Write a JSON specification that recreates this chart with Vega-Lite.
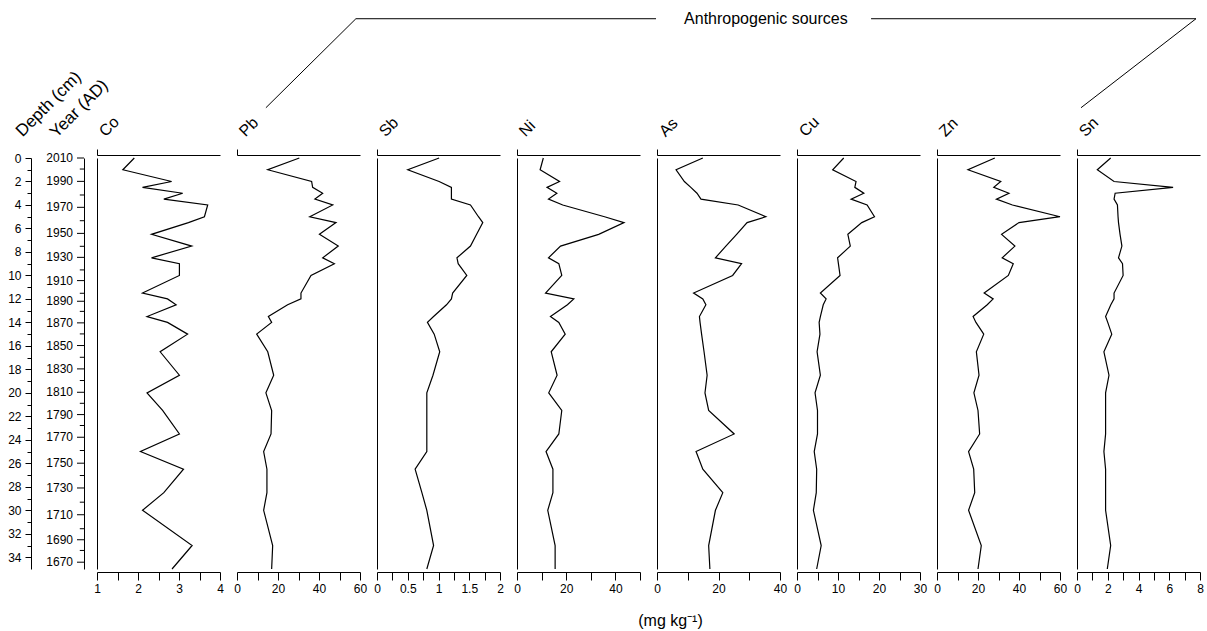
{
  "$schema": "https://vega.github.io/schema/vega-lite/v6.json",
  "background": "white",
  "padding": {"left": 7, "top": 10, "right": 2, "bottom": 2},
  "config": {
    "view": {"stroke": null},
    "font": "Liberation Sans",
    "axis": {
      "domainColor": "black", "tickColor": "black", "labelColor": "black", "titleColor": "black",
      "labelFont": "Liberation Sans", "titleFont": "Liberation Sans", "labelFontSize": 12,
      "titleFontWeight": "normal", "titleFontSize": 16, "grid": false, "labelFlush": false,
      "labelOverlap": false, "domainWidth": 1, "tickWidth": 1
    }
  },
  "datasets": {
    "conc": [
      {"depth": 0, "Co": 1.91, "Pb": 30.4, "Sb": 1.01, "Ni": 10.7, "As": 14.9, "Cu": 11.4, "Zn": 28.2, "Sn": 2.19},
      {"depth": 1, "Co": 1.63, "Pb": 15.0, "Sb": 0.50, "Ni": 9.4, "As": 6.2, "Cu": 8.7, "Zn": 15.1, "Sn": 1.32},
      {"depth": 2, "Co": 2.82, "Pb": 36.4, "Sb": 1.01, "Ni": 17.3, "As": 8.9, "Cu": 14.4, "Zn": 31.1, "Sn": 2.41},
      {"depth": 2.5, "Co": 2.11, "Pb": 36.9, "Sb": 1.21, "Ni": 12.2, "As": 11.0, "Cu": 14.1, "Zn": 27.7, "Sn": 6.25},
      {"depth": 3, "Co": 3.09, "Pb": 41.8, "Sb": 1.21, "Ni": 16.2, "As": 13.0, "Cu": 16.3, "Zn": 35.1, "Sn": 2.48},
      {"depth": 3.5, "Co": 2.63, "Pb": 38.0, "Sb": 1.21, "Ni": 12.8, "As": 14.3, "Cu": 13.2, "Zn": 29.0, "Sn": 2.41},
      {"depth": 4, "Co": 3.70, "Pb": 46.7, "Sb": 1.52, "Ni": 18.6, "As": 26.4, "Cu": 17.1, "Zn": 36.8, "Sn": 2.63},
      {"depth": 5, "Co": 3.62, "Pb": 35.5, "Sb": 1.65, "Ni": 35.6, "As": 35.4, "Cu": 18.9, "Zn": 60.0, "Sn": 2.67},
      {"depth": 5.5, "Co": 3.23, "Pb": 48.3, "Sb": 1.72, "Ni": 43.5, "As": 29.3, "Cu": 15.8, "Zn": 40.0, "Sn": 2.70},
      {"depth": 6.5, "Co": 2.33, "Pb": 40.2, "Sb": 1.62, "Ni": 33.2, "As": 25.9, "Cu": 12.4, "Zn": 31.5, "Sn": 2.80},
      {"depth": 7.5, "Co": 3.31, "Pb": 49.4, "Sb": 1.52, "Ni": 17.7, "As": 22.4, "Cu": 13.0, "Zn": 38.0, "Sn": 2.92},
      {"depth": 8.5, "Co": 2.33, "Pb": 41.8, "Sb": 1.30, "Ni": 12.8, "As": 19.0, "Cu": 9.9, "Zn": 31.8, "Sn": 2.70},
      {"depth": 9, "Co": 3.01, "Pb": 47.5, "Sb": 1.32, "Ni": 17.0, "As": 27.5, "Cu": 10.1, "Zn": 37.2, "Sn": 2.96},
      {"depth": 10, "Co": 3.01, "Pb": 36.1, "Sb": 1.46, "Ni": 18.2, "As": 24.6, "Cu": 10.5, "Zn": 34.8, "Sn": 3.00},
      {"depth": 11.5, "Co": 2.11, "Pb": 31.2, "Sb": 1.23, "Ni": 11.6, "As": 11.9, "Cu": 5.7, "Zn": 23.0, "Sn": 2.41},
      {"depth": 12, "Co": 2.72, "Pb": 31.2, "Sb": 1.21, "Ni": 23.1, "As": 14.9, "Cu": 7.1, "Zn": 27.4, "Sn": 2.41},
      {"depth": 12.5, "Co": 2.93, "Pb": 24.7, "Sb": 1.13, "Ni": 20.5, "As": 15.9, "Cu": 6.4, "Zn": 24.5, "Sn": 2.20},
      {"depth": 13.5, "Co": 2.22, "Pb": 15.3, "Sb": 0.92, "Ni": 13.6, "As": 13.8, "Cu": 5.7, "Zn": 17.6, "Sn": 1.86},
      {"depth": 14, "Co": 2.72, "Pb": 16.9, "Sb": 0.82, "Ni": 17.0, "As": 14.0, "Cu": 5.4, "Zn": 19.0, "Sn": 2.00},
      {"depth": 15, "Co": 3.21, "Pb": 9.6, "Sb": 0.93, "Ni": 19.6, "As": 14.5, "Cu": 5.6, "Zn": 22.8, "Sn": 2.26},
      {"depth": 16.5, "Co": 2.54, "Pb": 15.0, "Sb": 1.02, "Ni": 13.9, "As": 15.3, "Cu": 4.9, "Zn": 19.2, "Sn": 1.75},
      {"depth": 18.5, "Co": 3.01, "Pb": 17.9, "Sb": 0.91, "Ni": 16.3, "As": 16.3, "Cu": 5.7, "Zn": 20.5, "Sn": 2.08},
      {"depth": 20, "Co": 2.22, "Pb": 14.1, "Sb": 0.81, "Ni": 12.9, "As": 15.6, "Cu": 4.4, "Zn": 18.0, "Sn": 1.86},
      {"depth": 21.5, "Co": 2.60, "Pb": 16.9, "Sb": 0.81, "Ni": 18.2, "As": 16.8, "Cu": 5.0, "Zn": 20.0, "Sn": 1.86},
      {"depth": 23.5, "Co": 3.01, "Pb": 16.6, "Sb": 0.81, "Ni": 17.0, "As": 25.1, "Cu": 5.0, "Zn": 20.8, "Sn": 1.86},
      {"depth": 25, "Co": 2.06, "Pb": 13.0, "Sb": 0.81, "Ni": 11.8, "As": 12.7, "Cu": 4.2, "Zn": 15.4, "Sn": 1.75},
      {"depth": 26.5, "Co": 3.11, "Pb": 14.6, "Sb": 0.62, "Ni": 14.6, "As": 14.9, "Cu": 4.8, "Zn": 17.9, "Sn": 1.86},
      {"depth": 28.5, "Co": 2.63, "Pb": 14.6, "Sb": 0.73, "Ni": 14.6, "As": 21.4, "Cu": 4.7, "Zn": 18.4, "Sn": 1.86},
      {"depth": 30, "Co": 2.11, "Pb": 13.0, "Sb": 0.81, "Ni": 12.5, "As": 19.0, "Cu": 4.0, "Zn": 15.4, "Sn": 1.86},
      {"depth": 33, "Co": 3.32, "Pb": 17.4, "Sb": 0.92, "Ni": 15.5, "As": 16.8, "Cu": 5.9, "Zn": 21.6, "Sn": 2.19},
      {"depth": 35, "Co": 2.83, "Pb": 16.9, "Sb": 0.81, "Ni": 15.5, "As": 17.2, "Cu": 4.8, "Zn": 20.0, "Sn": 1.97}
    ],
    "years": [
      {"year": 2010, "depth": 0, "major": true}, {"year": 2000, "depth": 0.94, "major": false},
      {"year": 1990, "depth": 1.99, "major": true}, {"year": 1980, "depth": 3.15, "major": false},
      {"year": 1970, "depth": 4.2, "major": true}, {"year": 1960, "depth": 5.34, "major": false},
      {"year": 1950, "depth": 6.42, "major": true}, {"year": 1940, "depth": 7.52, "major": false},
      {"year": 1930, "depth": 8.46, "major": true}, {"year": 1920, "depth": 9.53, "major": false},
      {"year": 1910, "depth": 10.44, "major": true}, {"year": 1900, "depth": 11.52, "major": false},
      {"year": 1890, "depth": 12.2, "major": true}, {"year": 1880, "depth": 13.06, "major": false},
      {"year": 1870, "depth": 14.04, "major": true}, {"year": 1860, "depth": 14.98, "major": false},
      {"year": 1850, "depth": 15.97, "major": true}, {"year": 1840, "depth": 16.97, "major": false},
      {"year": 1830, "depth": 17.96, "major": true}, {"year": 1820, "depth": 18.95, "major": false},
      {"year": 1810, "depth": 19.95, "major": true}, {"year": 1800, "depth": 20.89, "major": false},
      {"year": 1790, "depth": 21.85, "major": true}, {"year": 1780, "depth": 22.78, "major": false},
      {"year": 1770, "depth": 23.78, "major": true}, {"year": 1760, "depth": 24.91, "major": false},
      {"year": 1750, "depth": 25.99, "major": true}, {"year": 1740, "depth": 27.04, "major": false},
      {"year": 1730, "depth": 28.1, "major": true}, {"year": 1720, "depth": 29.31, "major": false},
      {"year": 1710, "depth": 30.38, "major": true}, {"year": 1700, "depth": 31.57, "major": false},
      {"year": 1690, "depth": 32.51, "major": true}, {"year": 1680, "depth": 33.42, "major": false},
      {"year": 1670, "depth": 34.42, "major": true}
    ],
    "bracket": [
      {"seg": "a", "o": 1, "bx": 14.1, "by": -4.28},
      {"seg": "a", "o": 2, "bx": 58.0, "by": -11.86},
      {"seg": "a", "o": 3, "bx": 204.4, "by": -11.86},
      {"seg": "b", "o": 1, "bx": 309.3, "by": -11.86},
      {"seg": "b", "o": 2, "bx": 467.8, "by": -11.86},
      {"seg": "b", "o": 3, "bx": 411.7, "by": -4.28}
    ],
    "bracketLabel": [
      {"bx": 258.0, "by": -11.86, "label": "Anthropogenic sources"}
    ]
  },
  "spacing": 13,
  "bounds": "flush",
  "hconcat": [
    {
      "width": 7, "height": 411,
      "data": {"name": "years"},
      "layer": [
        {
          "transform": [{"filter": "datum.major"}],
          "mark": {"type": "rule", "color": "black", "strokeWidth": 1},
          "encoding": {
            "x": {"datum": 0, "type": "quantitative", "scale": {"domain": [0, 1], "nice": false, "zero": false}, "axis": null},
            "x2": {"datum": 1},
            "y": {"field": "depth", "type": "quantitative",
              "scale": {"domain": [0, 35], "reverse": true, "nice": false, "zero": false},
              "axis": {"orient": "left", "offset": 46,
                "values": [0,1,2,3,4,5,6,7,8,9,10,11,12,13,14,15,16,17,18,19,20,21,22,23,24,25,26,27,28,29,30,31,32,33,34],
                "tickSize": {"condition": {"test": "datum.value % 2 === 0", "value": 6}, "value": 4},
                "labelPadding": 4,
                "labelExpr": "datum.value % 2 === 0 ? datum.label : ''",
                "title": "Depth (cm)", "titleFontSize": 17, "titleAngle": 315, "titleAlign": "left", "titleBaseline": "alphabetic",
                "titleX": -9, "titleY": -21}}
          }
        },
        {
          "transform": [{"filter": "!datum.major"}],
          "mark": {"type": "rule", "color": "black", "strokeWidth": 1},
          "encoding": {
            "x": {"datum": 0.4, "type": "quantitative", "scale": {"domain": [0, 1], "nice": false, "zero": false}, "axis": null},
            "x2": {"datum": 1},
            "y": {"field": "depth", "type": "quantitative",
              "scale": {"domain": [0, 35], "reverse": true, "nice": false, "zero": false}, "axis": null}
          }
        },
        {
          "transform": [{"filter": "datum.major"}],
          "mark": {"type": "text", "align": "right", "baseline": "middle", "dx": -4, "fontSize": 12, "color": "black"},
          "encoding": {
            "x": {"datum": 0, "type": "quantitative", "scale": {"domain": [0, 1], "nice": false, "zero": false}, "axis": null},
            "y": {"field": "depth", "type": "quantitative",
              "scale": {"domain": [0, 35], "reverse": true, "nice": false, "zero": false},
              "axis": {"orient": "right", "ticks": false, "labels": false, "domain": true,
                "title": "Year (AD)", "titleFontSize": 17, "titleAngle": 315, "titleAlign": "left", "titleBaseline": "alphabetic",
                "titleX": -28, "titleY": -20}},
            "text": {"field": "year", "type": "quantitative", "format": "d"}
          }
        }
      ],
      "resolve": {"axis": {"y": "independent"}}
    },
    {
      "width": 127, "height": 411,
      "data": {"name": "conc"},
      "layer": [
        {
          "mark": {"type": "line", "color": "black", "strokeWidth": 1.2},
          "encoding": {
            "y": {"field": "depth", "type": "quantitative", "scale": {"domain": [0, 35], "reverse": true, "nice": false, "zero": false},
              "axis": {"orient": "left", "ticks": false, "labels": false, "title": null, "domain": true}},
            "x": {"field": "Co", "type": "quantitative", "scale": {"domain": [1, 4], "range": [0, 123], "nice": false, "zero": false},
              "axis": {"orient": "bottom", "offset": 3, "values": [1, 1.5, 2, 2.5, 3, 3.5, 4],
                "labelExpr": "datum.value % 1 === 0 ? '' + datum.value : ''", "tickSize": 8, "labelPadding": 3, "title": null}},
            "order": {"field": "depth", "type": "quantitative"}
          }
        },
        {
          "mark": {"type": "line", "opacity": 0},
          "encoding": {
            "y": {"field": "depth", "type": "quantitative", "scale": {"domain": [0, 35], "reverse": true, "nice": false, "zero": false},
              "axis": {"orient": "left", "ticks": false, "labels": false, "title": null, "domain": true}},
            "x": {"field": "Co", "type": "quantitative", "scale": {"domain": [1, 4], "range": [0, 123], "nice": false, "zero": false},
              "axis": {"orient": "top", "offset": 3, "values": [1], "tickSize": 6, "labels": false,
                "title": "Co", "titleAngle": 315, "titleAlign": "left", "titleBaseline": "alphabetic", "titleX": 8, "titleY": -18}},
            "order": {"field": "depth", "type": "quantitative"}
          }
        }
      ],
      "resolve": {"axis": {"x": "independent"}}
    },
    {
      "width": 127, "height": 411,
      "data": {"name": "conc"},
      "layer": [
        {
          "mark": {"type": "line", "color": "black", "strokeWidth": 1.2},
          "encoding": {
            "y": {"field": "depth", "type": "quantitative", "scale": {"domain": [0, 35], "reverse": true, "nice": false, "zero": false},
              "axis": {"orient": "left", "ticks": false, "labels": false, "title": null, "domain": true}},
            "x": {"field": "Pb", "type": "quantitative", "scale": {"domain": [0, 60], "range": [0, 123], "nice": false, "zero": false},
              "axis": {"orient": "bottom", "offset": 3, "values": [0, 10, 20, 30, 40, 50, 60],
                "labelExpr": "datum.value % 20 === 0 ? '' + datum.value : ''", "tickSize": 8, "labelPadding": 3, "title": null}},
            "order": {"field": "depth", "type": "quantitative"}
          }
        },
        {
          "mark": {"type": "line", "opacity": 0},
          "encoding": {
            "y": {"field": "depth", "type": "quantitative", "scale": {"domain": [0, 35], "reverse": true, "nice": false, "zero": false},
              "axis": {"orient": "left", "ticks": false, "labels": false, "title": null, "domain": true}},
            "x": {"field": "Pb", "type": "quantitative", "scale": {"domain": [0, 60], "range": [0, 123], "nice": false, "zero": false},
              "axis": {"orient": "top", "offset": 3, "values": [0], "tickSize": 6, "labels": false,
                "title": "Pb", "titleAngle": 315, "titleAlign": "left", "titleBaseline": "alphabetic", "titleX": 8, "titleY": -18}},
            "order": {"field": "depth", "type": "quantitative"}
          }
        },
        {
          "data": {"name": "bracket"},
          "mark": {"type": "line", "color": "black", "strokeWidth": 1, "clip": false},
          "encoding": {
            "y": {"field": "by", "type": "quantitative", "scale": {"domain": [0, 35], "reverse": true, "nice": false, "zero": false}, "axis": null},
            "x": {"field": "bx", "type": "quantitative", "scale": {"domain": [0, 60], "range": [0, 123], "nice": false, "zero": false}, "axis": null},
            "detail": {"field": "seg", "type": "nominal"},
            "order": {"field": "o", "type": "quantitative"}
          }
        },
        {
          "data": {"name": "bracketLabel"},
          "mark": {"type": "text", "fontSize": 16, "color": "black", "align": "center", "baseline": "middle", "clip": false},
          "encoding": {
            "y": {"field": "by", "type": "quantitative", "scale": {"domain": [0, 35], "reverse": true, "nice": false, "zero": false}, "axis": null},
            "x": {"field": "bx", "type": "quantitative", "scale": {"domain": [0, 60], "range": [0, 123], "nice": false, "zero": false}, "axis": null},
            "text": {"field": "label", "type": "nominal"}
          }
        }
      ],
      "resolve": {"axis": {"x": "independent"}}
    },
    {
      "width": 127, "height": 411,
      "data": {"name": "conc"},
      "layer": [
        {
          "mark": {"type": "line", "color": "black", "strokeWidth": 1.2},
          "encoding": {
            "y": {"field": "depth", "type": "quantitative", "scale": {"domain": [0, 35], "reverse": true, "nice": false, "zero": false},
              "axis": {"orient": "left", "ticks": false, "labels": false, "title": null, "domain": true}},
            "x": {"field": "Sb", "type": "quantitative", "scale": {"domain": [0, 2], "range": [0, 123], "nice": false, "zero": false},
              "axis": {"orient": "bottom", "offset": 3, "values": [0, 0.25, 0.5, 0.75, 1, 1.25, 1.5, 1.75, 2],
                "labelExpr": "datum.value % 0.5 === 0 ? '' + datum.value : ''", "tickSize": 8, "labelPadding": 3, "title": null}},
            "order": {"field": "depth", "type": "quantitative"}
          }
        },
        {
          "mark": {"type": "line", "opacity": 0},
          "encoding": {
            "y": {"field": "depth", "type": "quantitative", "scale": {"domain": [0, 35], "reverse": true, "nice": false, "zero": false},
              "axis": {"orient": "left", "ticks": false, "labels": false, "title": null, "domain": true}},
            "x": {"field": "Sb", "type": "quantitative", "scale": {"domain": [0, 2], "range": [0, 123], "nice": false, "zero": false},
              "axis": {"orient": "top", "offset": 3, "values": [0], "tickSize": 6, "labels": false,
                "title": "Sb", "titleAngle": 315, "titleAlign": "left", "titleBaseline": "alphabetic", "titleX": 8, "titleY": -18}},
            "order": {"field": "depth", "type": "quantitative"}
          }
        }
      ],
      "resolve": {"axis": {"x": "independent"}}
    },
    {
      "width": 127, "height": 411,
      "data": {"name": "conc"},
      "layer": [
        {
          "mark": {"type": "line", "color": "black", "strokeWidth": 1.2},
          "encoding": {
            "y": {"field": "depth", "type": "quantitative", "scale": {"domain": [0, 35], "reverse": true, "nice": false, "zero": false},
              "axis": {"orient": "left", "ticks": false, "labels": false, "title": null, "domain": true}},
            "x": {"field": "Ni", "type": "quantitative", "scale": {"domain": [0, 50], "range": [0, 123], "nice": false, "zero": false},
              "axis": {"orient": "bottom", "offset": 3, "values": [0, 10, 20, 30, 40, 50],
                "labelExpr": "datum.value % 20 === 0 ? '' + datum.value : ''", "tickSize": 8, "labelPadding": 3, "title": null}},
            "order": {"field": "depth", "type": "quantitative"}
          }
        },
        {
          "mark": {"type": "line", "opacity": 0},
          "encoding": {
            "y": {"field": "depth", "type": "quantitative", "scale": {"domain": [0, 35], "reverse": true, "nice": false, "zero": false},
              "axis": {"orient": "left", "ticks": false, "labels": false, "title": null, "domain": true}},
            "x": {"field": "Ni", "type": "quantitative", "scale": {"domain": [0, 50], "range": [0, 123], "nice": false, "zero": false},
              "axis": {"orient": "top", "offset": 3, "values": [0], "tickSize": 6, "labels": false,
                "title": "Ni", "titleAngle": 315, "titleAlign": "left", "titleBaseline": "alphabetic", "titleX": 8, "titleY": -18}},
            "order": {"field": "depth", "type": "quantitative"}
          }
        }
      ],
      "resolve": {"axis": {"x": "independent"}}
    },
    {
      "width": 127, "height": 411,
      "data": {"name": "conc"},
      "layer": [
        {
          "mark": {"type": "line", "color": "black", "strokeWidth": 1.2},
          "encoding": {
            "y": {"field": "depth", "type": "quantitative", "scale": {"domain": [0, 35], "reverse": true, "nice": false, "zero": false},
              "axis": {"orient": "left", "ticks": false, "labels": false, "title": null, "domain": true}},
            "x": {"field": "As", "type": "quantitative", "scale": {"domain": [0, 40], "range": [0, 123], "nice": false, "zero": false},
              "axis": {"orient": "bottom", "offset": 3, "values": [0, 10, 20, 30, 40],
                "labelExpr": "datum.value % 20 === 0 ? '' + datum.value : ''", "tickSize": 8, "labelPadding": 3,
                "title": "(mg kg⁻¹)", "titleFontSize": 16, "titleAlign": "center", "titleBaseline": "alphabetic", "titleX": 13, "titleY": 53}},
            "order": {"field": "depth", "type": "quantitative"}
          }
        },
        {
          "mark": {"type": "line", "opacity": 0},
          "encoding": {
            "y": {"field": "depth", "type": "quantitative", "scale": {"domain": [0, 35], "reverse": true, "nice": false, "zero": false},
              "axis": {"orient": "left", "ticks": false, "labels": false, "title": null, "domain": true}},
            "x": {"field": "As", "type": "quantitative", "scale": {"domain": [0, 40], "range": [0, 123], "nice": false, "zero": false},
              "axis": {"orient": "top", "offset": 3, "values": [0], "tickSize": 6, "labels": false,
                "title": "As", "titleAngle": 315, "titleAlign": "left", "titleBaseline": "alphabetic", "titleX": 8, "titleY": -18}},
            "order": {"field": "depth", "type": "quantitative"}
          }
        }
      ],
      "resolve": {"axis": {"x": "independent"}}
    },
    {
      "width": 127, "height": 411,
      "data": {"name": "conc"},
      "layer": [
        {
          "mark": {"type": "line", "color": "black", "strokeWidth": 1.2},
          "encoding": {
            "y": {"field": "depth", "type": "quantitative", "scale": {"domain": [0, 35], "reverse": true, "nice": false, "zero": false},
              "axis": {"orient": "left", "ticks": false, "labels": false, "title": null, "domain": true}},
            "x": {"field": "Cu", "type": "quantitative", "scale": {"domain": [0, 30], "range": [0, 123], "nice": false, "zero": false},
              "axis": {"orient": "bottom", "offset": 3, "values": [0, 5, 10, 15, 20, 25, 30],
                "labelExpr": "datum.value % 10 === 0 ? '' + datum.value : ''", "tickSize": 8, "labelPadding": 3, "title": null}},
            "order": {"field": "depth", "type": "quantitative"}
          }
        },
        {
          "mark": {"type": "line", "opacity": 0},
          "encoding": {
            "y": {"field": "depth", "type": "quantitative", "scale": {"domain": [0, 35], "reverse": true, "nice": false, "zero": false},
              "axis": {"orient": "left", "ticks": false, "labels": false, "title": null, "domain": true}},
            "x": {"field": "Cu", "type": "quantitative", "scale": {"domain": [0, 30], "range": [0, 123], "nice": false, "zero": false},
              "axis": {"orient": "top", "offset": 3, "values": [0], "tickSize": 6, "labels": false,
                "title": "Cu", "titleAngle": 315, "titleAlign": "left", "titleBaseline": "alphabetic", "titleX": 8, "titleY": -18}},
            "order": {"field": "depth", "type": "quantitative"}
          }
        }
      ],
      "resolve": {"axis": {"x": "independent"}}
    },
    {
      "width": 127, "height": 411,
      "data": {"name": "conc"},
      "layer": [
        {
          "mark": {"type": "line", "color": "black", "strokeWidth": 1.2},
          "encoding": {
            "y": {"field": "depth", "type": "quantitative", "scale": {"domain": [0, 35], "reverse": true, "nice": false, "zero": false},
              "axis": {"orient": "left", "ticks": false, "labels": false, "title": null, "domain": true}},
            "x": {"field": "Zn", "type": "quantitative", "scale": {"domain": [0, 60], "range": [0, 123], "nice": false, "zero": false},
              "axis": {"orient": "bottom", "offset": 3, "values": [0, 10, 20, 30, 40, 50, 60],
                "labelExpr": "datum.value % 20 === 0 ? '' + datum.value : ''", "tickSize": 8, "labelPadding": 3, "title": null}},
            "order": {"field": "depth", "type": "quantitative"}
          }
        },
        {
          "mark": {"type": "line", "opacity": 0},
          "encoding": {
            "y": {"field": "depth", "type": "quantitative", "scale": {"domain": [0, 35], "reverse": true, "nice": false, "zero": false},
              "axis": {"orient": "left", "ticks": false, "labels": false, "title": null, "domain": true}},
            "x": {"field": "Zn", "type": "quantitative", "scale": {"domain": [0, 60], "range": [0, 123], "nice": false, "zero": false},
              "axis": {"orient": "top", "offset": 3, "values": [0], "tickSize": 6, "labels": false,
                "title": "Zn", "titleAngle": 315, "titleAlign": "left", "titleBaseline": "alphabetic", "titleX": 8, "titleY": -18}},
            "order": {"field": "depth", "type": "quantitative"}
          }
        }
      ],
      "resolve": {"axis": {"x": "independent"}}
    },
    {
      "width": 127, "height": 411,
      "data": {"name": "conc"},
      "layer": [
        {
          "mark": {"type": "line", "color": "black", "strokeWidth": 1.2},
          "encoding": {
            "y": {"field": "depth", "type": "quantitative", "scale": {"domain": [0, 35], "reverse": true, "nice": false, "zero": false},
              "axis": {"orient": "left", "ticks": false, "labels": false, "title": null, "domain": true}},
            "x": {"field": "Sn", "type": "quantitative", "scale": {"domain": [0, 8], "range": [0, 123], "nice": false, "zero": false},
              "axis": {"orient": "bottom", "offset": 3, "values": [0, 1, 2, 3, 4, 5, 6, 7, 8],
                "labelExpr": "datum.value % 2 === 0 ? '' + datum.value : ''", "tickSize": 8, "labelPadding": 3, "title": null}},
            "order": {"field": "depth", "type": "quantitative"}
          }
        },
        {
          "mark": {"type": "line", "opacity": 0},
          "encoding": {
            "y": {"field": "depth", "type": "quantitative", "scale": {"domain": [0, 35], "reverse": true, "nice": false, "zero": false},
              "axis": {"orient": "left", "ticks": false, "labels": false, "title": null, "domain": true}},
            "x": {"field": "Sn", "type": "quantitative", "scale": {"domain": [0, 8], "range": [0, 123], "nice": false, "zero": false},
              "axis": {"orient": "top", "offset": 3, "values": [0], "tickSize": 6, "labels": false,
                "title": "Sn", "titleAngle": 315, "titleAlign": "left", "titleBaseline": "alphabetic", "titleX": 8, "titleY": -18}},
            "order": {"field": "depth", "type": "quantitative"}
          }
        }
      ],
      "resolve": {"axis": {"x": "independent"}}
    }
  ]
}
